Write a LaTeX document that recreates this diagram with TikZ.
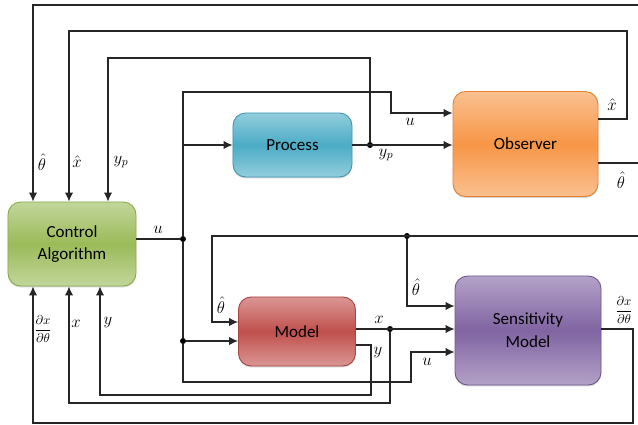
\documentclass[tikz,border=0pt]{standalone}
\usepackage{fontspec}
\setmainfont{Carlito}
\usepackage{amsmath,amssymb}
\usetikzlibrary{arrows.meta, positioning, calc, shadows}

\definecolor{grnlt}{HTML}{C2D69B}
\definecolor{grnmd}{HTML}{9BBB59}
\definecolor{grnbd}{HTML}{8AAD4A}
\definecolor{blult}{HTML}{92CDDC}
\definecolor{blumd}{HTML}{4BACC6}
\definecolor{blubd}{HTML}{4197B0}
\definecolor{orglt}{HTML}{FAC090}
\definecolor{orgmd}{HTML}{F79646}
\definecolor{orgbd}{HTML}{E6822F}
\definecolor{redlt}{HTML}{DA9694}
\definecolor{redmd}{HTML}{C0504D}
\definecolor{redbd}{HTML}{A94643}
\definecolor{purlt}{HTML}{B3A2C7}
\definecolor{purmd}{HTML}{8064A2}
\definecolor{purbd}{HTML}{70588F}

\begin{document}
\begin{tikzpicture}[x=0.03cm, y=-0.03cm,
	block/.style={rounded corners=0.38cm, align=center, font=\fontsize{14.5}{19.5}\selectfont, inner sep=0pt, line width=0.8pt,
		drop shadow={shadow xshift=0pt, shadow yshift=-1.2pt, opacity=0.35}},
	ctrlbox/.style={block, top color=grnlt, bottom color=grnlt, middle color=grnmd, draw=grnbd},
	procbox/.style={block, top color=blult, bottom color=blult, middle color=blumd, draw=blubd},
	obsbox/.style={block, top color=orglt, bottom color=orglt, middle color=orgmd, draw=orgbd},
	modelbox/.style={block, top color=redlt, bottom color=redlt, middle color=redmd, draw=redbd},
	sensbox/.style={block, top color=purlt, bottom color=purlt, middle color=purmd, draw=purbd},
	wire/.style={draw=black!85, line width=0.9pt},
	arr/.style={wire, -{Latex[length=2.7mm,width=2.5mm]}},
	dot/.style={circle, fill=black, inner sep=0pt, minimum size=1.8mm},
	lbl/.style={font=\fontsize{14.5}{17}\selectfont, inner sep=0.5pt},
	frac/.style={font=\fontsize{10.5}{12}\selectfont, inner sep=0.5pt}]
		\useasboundingbox (0,0) rectangle (638,425);
		
		% Define the nodes
		\node (ctrl) [ctrlbox, minimum width=3.84cm, minimum height=2.52cm] at (72,244) {Control\\Algorithm};
		\node (proc) [procbox, minimum width=3.57cm, minimum height=1.92cm] at (292.5,145) {Process};
		\node (obs) [obsbox, minimum width=4.35cm, minimum height=3.15cm] at (525.5,144) {Observer};
		\node (model) [modelbox, minimum width=3.51cm, minimum height=2.07cm] at (297,331.5) {Model};
		\node (sens) [sensbox, minimum width=4.38cm, minimum height=3.27cm] at (528,330.5) {Sensitivity\\Model};
		
		% Junctions and free ends
		\node (ujn) [dot] at (183,239) {};
		\node (ujn2) [dot] at (183,341) {};
		\node (ypjn) [dot] at (370,145) {};
		\node (thjn) [dot] at (407,236) {};
		\node (xjn) [dot] at (390,329) {};
		\coordinate (ujtop) at (183,92);
		\coordinate (thtop) at (638,5);
		\coordinate (thobs) at (638,163);
		\coordinate (thmid) at (638,236);
		
		% Connect the nodes with arrows
		\draw[wire] (ctrl.east |- ujn) -- (ujn);
		\draw[arr] (ujn) -- (ujtop) -| (391,113) -- (obs.west |- 0,113);
		\draw[arr] (183,145) -- (proc.west);
		\draw[arr] (proc.east) -- (obs.west |- proc.east);
		\draw[arr] (ypjn) |- (108,58) -- (ctrl.north -| 108,0);
		\draw[arr] (obs.east |- 0,119) -| (627,31) -| (ctrl.north -| 69,0);
		\draw[wire] (obs.east |- 0,163) -- (thobs);
		\draw[arr] (thtop) -| (ctrl.north -| 33,0);
		
		\draw[arr] (thmid) -| (212,322) -- (model.west |- 0,322);
		\draw[arr] (thjn) |- (sens.west |- 0,306);
		\draw[arr] (ujn) -- (ujn2) -- (model.west |- ujn2);
		\draw[arr] (ujn2) |- (411,382) |- (sens.west |- 0,352);
		\draw[arr] (model.east |- 0,329) -- (sens.west |- 0,329);
		\draw[arr] (xjn) |- (69,403) -- (ctrl.south -| 69,0);
		\draw[arr] (model.east |- 0,345) -| (371,395) -| (ctrl.south -| 100,0);
		\draw[arr] (sens.east |- 0,329) -| (633,423) -| (ctrl.south -| 33,0);
		
		% Labels
		\node (l1) [lbl] at (42,162) {$\hat{\theta}$};
		\node (l2) [lbl] at (77,162) {$\hat{x}$};
		\node (l3) [lbl] at (121,162) {$y_p$};
		\node (l4) [lbl] at (158,230) {$u$};
		\node (l5) [lbl] at (410,122) {$u$};
		\node (l6) [lbl] at (386,155) {$y_p$};
		\node (l7) [lbl] at (612,105) {$\hat{x}$};
		\node (l8) [lbl] at (621,180) {$\hat{\theta}$};
		\node (l9) [lbl] at (221,305) {$\hat{\theta}$};
		\node (l10) [lbl] at (416,287) {$\hat{\theta}$};
		\node (l11) [frac] at (43,329) {$\dfrac{\partial x}{\partial \theta}$};
		\node (l12) [lbl] at (76,324) {$x$};
		\node (l13) [lbl] at (108,323) {$y$};
		\node (l14) [lbl] at (379,320) {$x$};
		\node (l15) [lbl] at (378,353) {$y$};
		\node (l16) [lbl] at (427,362) {$u$};
		\node (l17) [frac] at (624,310) {$\dfrac{\partial x}{\partial \theta}$};
	\end{tikzpicture}
\end{document}
